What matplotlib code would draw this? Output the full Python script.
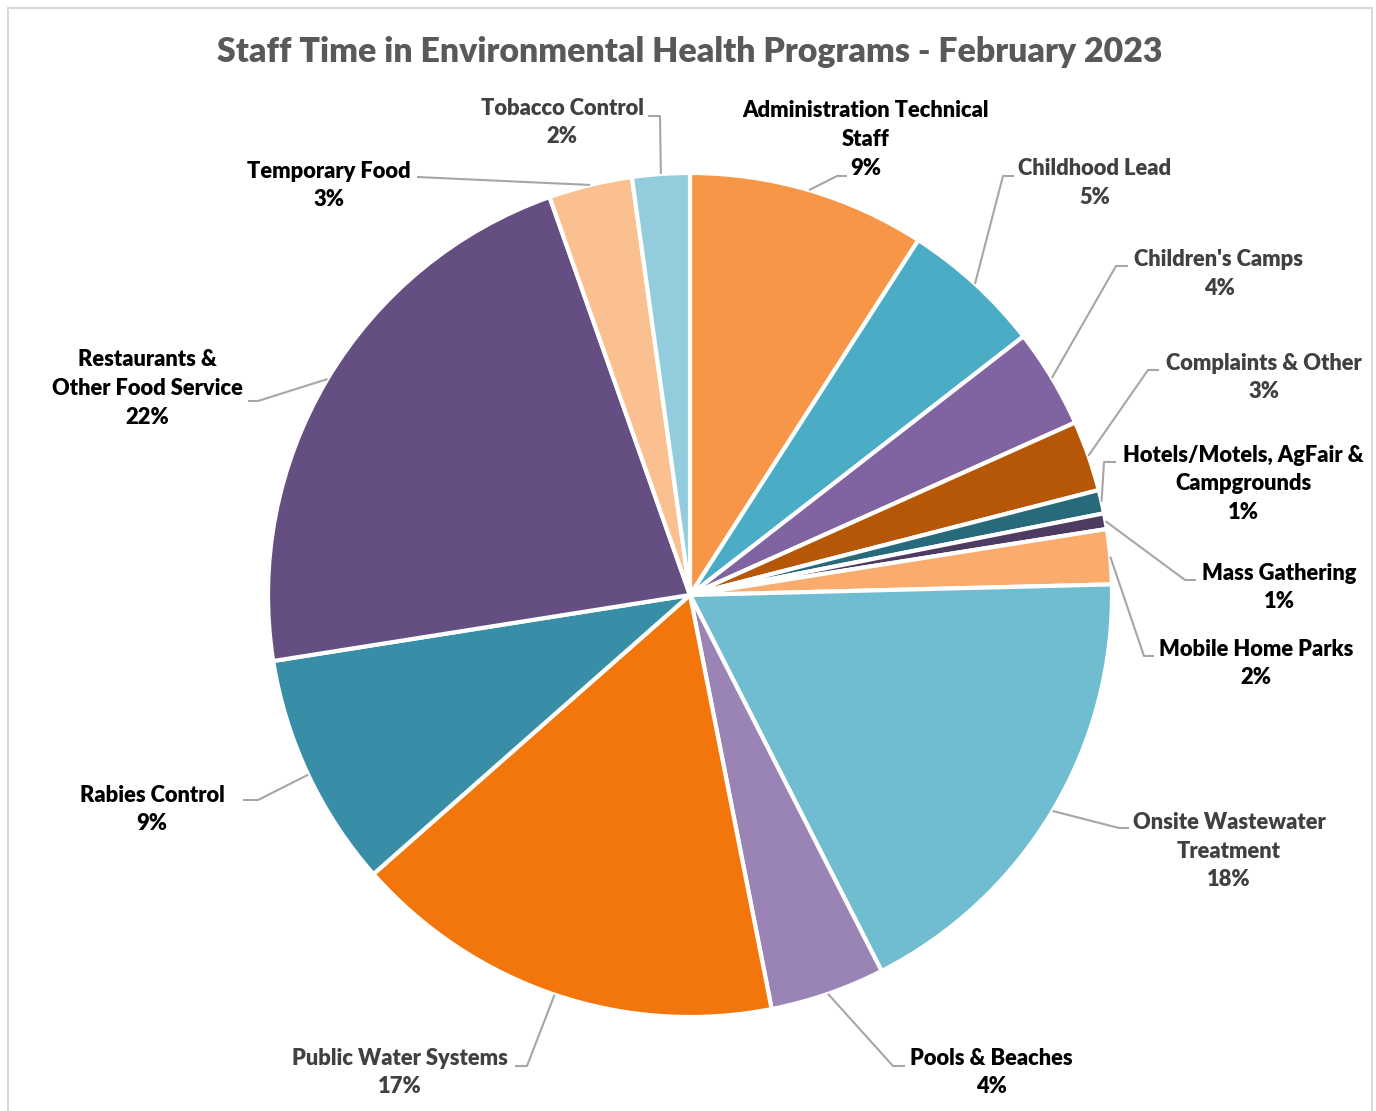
import matplotlib
matplotlib.use("Agg")
import matplotlib.pyplot as plt
import numpy as np

# ---------------- data ----------------
categories = [
    "Administration Technical\nStaff",
    "Childhood Lead",
    "Children's Camps",
    "Complaints & Other",
    "Hotels/Motels, AgFair &\nCampgrounds",
    "Mass Gathering",
    "Mobile Home Parks",
    "Onsite Wastewater\nTreatment",
    "Pools & Beaches",
    "Public Water Systems",
    "Rabies Control",
    "Restaurants &\nOther Food Service",
    "Temporary Food",
    "Tobacco Control",
]
percent = [9.1, 5.4, 3.8, 2.7, 0.9, 0.6, 2.1, 17.9, 4.4, 16.6, 9.0, 22.1, 3.2, 2.2]
title = "Staff Time in Environmental Health Programs - February 2023"

# ---------------- style / layout ----------------
colors = ["#F79646", "#4BACC6", "#8064A2", "#B65708", "#276A7C", "#4D3B62",
          "#F9AC6E", "#70BCD1", "#9A83B5", "#F3760C", "#378EA6", "#654F82",
          "#FAC090", "#93CDDD"]
label_colors = ["#000000", "#404040", "#404040", "#404040", "#000000", "#000000",
                "#000000", "#404040", "#000000", "#404040", "#000000", "#000000",
                "#000000", "#404040"]
# text centre (x, y from top), elbow point (x, y from top), end x of horizontal stub
label_layout = [
    (866, 139.5, 837, 176, 847),
    (1095, 183, 1003, 176, 1014),
    (1219, 274, 1116, 266, 1128),
    (1264, 377.5, 1148, 370, 1159),
    (1243, 484, 1104, 462, 1116),
    (1279, 587.5, 1185, 580, 1196),
    (1256, 663.5, 1144, 656, 1154),
    (1229, 851, 1119, 828, 1129),
    (991, 1072.5, 893, 1066, 905),
    (400, 1072.5, 527, 1066, 515),
    (152, 809.5, 258, 800, 243),
    (147, 388.5, 258, 401, 248),
    (329, 185.5, 417, 177, 417),
    (562, 122.5, 660, 116, 648),
]

W, H = 1376, 1111
FONT = ["Lato", "DejaVu Sans"]
plt.rcParams["font.family"] = FONT
WEIGHT = "heavy"

fig = plt.figure(figsize=(W / 100, H / 100), dpi=100)
ax = fig.add_axes([0, 0, 1, 1])

cx, cy, R = 690, H - 595, 422

wedges, _ = ax.pie(percent, colors=colors, startangle=90, counterclock=False,
                   center=(cx, cy), radius=R, frame=True,
                   wedgeprops=dict(edgecolor="white", linewidth=3))
ax.set_xlim(0, W)
ax.set_ylim(0, H)
ax.set_aspect("auto")
ax.axis("off")

# border (left, top, right)
ax.plot([8, 8, 1372, 1372], [-5, H - 8, H - 8, -5], color="#D9D9D9", lw=1.5,
        solid_joinstyle="miter", clip_on=False)

# title
t = ax.text(690, H - 52, title, ha="center", va="center", fontsize=27,
            fontweight=WEIGHT, color="#595959")

label_fs = 16.5
texts = []
for w, name, pct, lc, (tx, ty, ex, ey, sx) in zip(wedges, categories, percent,
                                                  label_colors, label_layout):
    ang = np.deg2rad((w.theta1 + w.theta2) / 2)
    px, py = cx + R * np.cos(ang), cy + R * np.sin(ang)
    ax.plot([px, ex, sx], [py, H - ey, H - ey], color="#A6A6A6", lw=1.5,
            solid_capstyle="butt", zorder=1)
    txt = ax.text(tx, H - ty, f"{name}\n{round(pct)}%", ha="center", va="center",
                  multialignment="center", fontsize=label_fs, fontweight=WEIGHT,
                  color=lc, linespacing=1.25)
    texts.append(txt)

# fit fonts to reference widths
fig.canvas.draw()
r = fig.canvas.get_renderer()
tw = t.get_window_extent(r).width
t.set_fontsize(27 * 946 / tw)
probe = ax.text(0, 0, "Mobile Home Parks", fontsize=label_fs, fontweight=WEIGHT)
pw = probe.get_window_extent(r).width
probe.remove()
new_fs = label_fs * 195 / pw
for txt in texts:
    txt.set_fontsize(new_fs)
fig.canvas.draw()
probe = ax.text(0, 0, "A\nA", fontsize=new_fs, fontweight=WEIGHT, linespacing=1.25)
ph = probe.get_window_extent(r).height
probe.remove()
probe1 = ax.text(0, 0, "A", fontsize=new_fs, fontweight=WEIGHT)
ph1 = probe1.get_window_extent(r).height
probe1.remove()
pitch = ph - ph1
for txt in texts:
    txt.set_linespacing(1.25 * 29.5 / pitch if pitch > 0 else 1.25)

fig.savefig("out.png", dpi=100, facecolor="white")
